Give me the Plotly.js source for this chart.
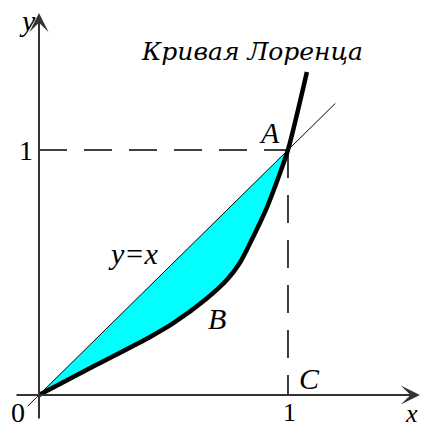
<!DOCTYPE html>
<html>
<head>
<meta charset="utf-8">
<script src="https://cdn.plot.ly/plotly-3.0.1.min.js"></script>
<style>
  html, body { margin: 0; padding: 0; background: #fff; }
  #chart { width: 422px; height: 427px; }
</style>
</head>
<body>
<div id="chart"></div>
<script>
// Lorenz curve points
const lorenzX = [0, 0.225, 0.446, 0.538, 0.675, 0.755, 0.807, 0.847, 0.916, 0.968, 1.0, 1.076];
const lorenzY = [0, 0.12, 0.237, 0.292, 0.395, 0.47, 0.54, 0.618, 0.767, 0.906, 1.0, 1.318];

// line of equality y = x
const diagX = [-0.045, 1.19];
const diagY = [-0.045, 1.19];

// point A = (1, 1)
const pointA = [1, 1];

const labelFont = { family: 'Liberation Serif, serif', size: 30, color: '#000', style: 'italic' };
const digitFont = { family: 'Liberation Serif, serif', size: 28, color: '#000' };

// fill between y=x and the curve, for 0..1
const iEnd = lorenzX.indexOf(1.0);
const fillX = lorenzX.slice(0, iEnd + 1);
const fillY = lorenzY.slice(0, iEnd + 1);

const traces = [
  {
    x: fillX, y: fillY, mode: 'lines', fill: 'toself',
    fillcolor: '#00ffff', line: { width: 0, shape: 'spline', smoothing: 0.8 }, hoverinfo: 'skip',
  },
  {
    x: [0, pointA[0]], y: [pointA[1], pointA[1]], mode: 'lines',
    line: { color: '#000', width: 1.5, dash: '28px,17px' }, hoverinfo: 'skip',
  },
  {
    x: [pointA[0], pointA[0]], y: [pointA[1], 0], mode: 'lines',
    line: { color: '#000', width: 1.5, dash: '28px,17px' }, hoverinfo: 'skip',
  },
  {
    x: diagX, y: diagY, mode: 'lines',
    line: { color: '#000', width: 1 }, hoverinfo: 'skip',
  },
  {
    x: lorenzX, y: lorenzY, mode: 'lines',
    line: { color: '#000', width: 4.5, shape: 'spline', smoothing: 0.8 }, hoverinfo: 'skip',
  },
];

function label(text, x, y, extra) {
  return Object.assign({ text, x, y, xref: 'x', yref: 'y', showarrow: false, font: labelFont }, extra || {});
}

function axisArrow(x, y, ax, ay) {
  return {
    x, y, ax, ay, xref: 'x', yref: 'y', axref: 'x', ayref: 'y',
    text: '', showarrow: true, arrowhead: 3, arrowsize: 1.6,
    arrowwidth: 2, arrowcolor: '#333',
  };
}

const annotations = [
  axisArrow(1.53, 0, -0.0964, 0),
  axisArrow(0, 1.559, 0, -0.102),
  label('Кривая Лоренца', 0.855, 1.40, { font: Object.assign({}, labelFont, { family: 'DejaVu Serif, serif', size: 25 }) }),
  label('y', -0.045, 1.53),
  label('x', 1.498, -0.075, { font: Object.assign({}, labelFont, { size: 26 }) }),
  label('0', -0.084, -0.072, { font: digitFont }),
  label('1', -0.052, 0.996, { font: digitFont }),
  label('1', 1.008, -0.072, { font: Object.assign({}, digitFont, { size: 26 }) }),
  label('A', 0.924, 1.073),
  label('B', 0.715, 0.314),
  label('C', 1.088, 0.069),
  label('y=x', 0.378, 0.576),
];

const layout = {
  width: 422,
  height: 427,
  margin: { l: 0, r: 0, t: 0, b: 0 },
  showlegend: false,
  plot_bgcolor: '#fff',
  paper_bgcolor: '#fff',
  xaxis: { range: [-0.1566, 1.5382], visible: false, fixedrange: true },
  yaxis: { range: [-0.1306, 1.6122], visible: false, fixedrange: true },
  annotations,
};

Plotly.newPlot('chart', traces, layout, { displayModeBar: false, staticPlot: true });
</script>
</body>
</html>
